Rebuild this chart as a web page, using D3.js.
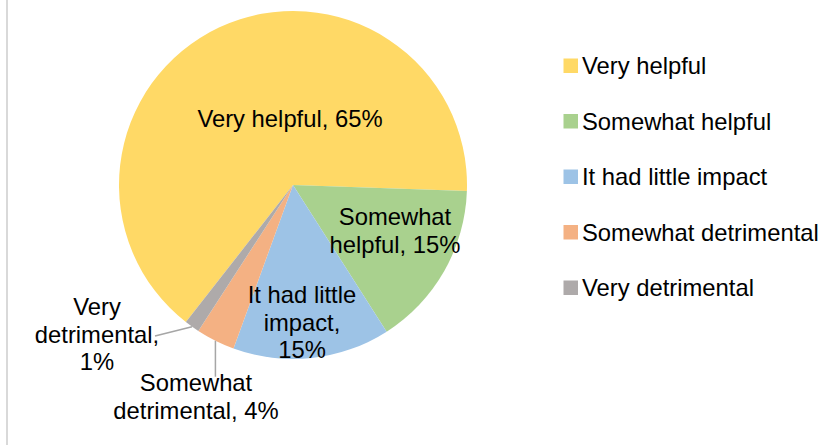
<!DOCTYPE html>
<html>
<head>
<meta charset="utf-8">
<script src="https://cdn.jsdelivr.net/npm/d3@7"></script>
<style>
  html, body { margin: 0; padding: 0; background: #fff; }
  svg { display: block; }
  text { font-family: Arial, "Liberation Sans", sans-serif; fill: #000; }
</style>
</head>
<body>
<svg id="chart" width="822" height="445"></svg>
<script>
// ---- data ----
const categories = ["Very helpful", "Somewhat helpful", "It had little impact", "Somewhat detrimental", "Very detrimental"];
const values = [65, 15.4, 14.6, 3.6, 1.4];
const percentLabels = ["65%", "15%", "15%", "4%", "1%"];
const colors = ["#FFD966", "#A9D18E", "#9DC3E6", "#F4B183", "#AEAAAA"];

// ---- layout ----
const W = 822, H = 445;
const cx = 293, cy = 185, R = 174;
const fontSize = 23.8;
const deg = Math.PI / 180;

const labelLines = [
  ["Very helpful, " + percentLabels[0]],
  ["Somewhat", "helpful, " + percentLabels[1]],
  ["It had little", "impact,", percentLabels[2]],
  ["Somewhat", "detrimental, " + percentLabels[3]],
  ["Very", "detrimental,", percentLabels[4]]
];
const labelPos = [
  {x: 290, y: 127},
  {x: 395, y: 225},
  {x: 302, y: 303},
  {x: 196, y: 391},
  {x: 97, y: 315}
];
const lineH = 27.5;

const svg = d3.select("#chart");

// left border
svg.append("line")
  .attr("x1", 7).attr("x2", 7).attr("y1", 0).attr("y2", H)
  .attr("stroke", "#d9d9d9").attr("stroke-width", 2);

const pie = d3.pie().sort(null).value(d => d)
  .startAngle(218 * deg).endAngle(218 * deg + 2 * Math.PI);
const arcs = pie(values);
const arc = d3.arc().innerRadius(0).outerRadius(R);

const g = svg.append("g").attr("transform", `translate(${cx},${cy})`);
g.selectAll("path.slice").data(arcs).enter().append("path")
  .attr("class", "slice")
  .attr("d", arc)
  .attr("fill", (d, i) => colors[i]);

function edgePoint(d) {
  const a = (d.startAngle + d.endAngle) / 2;
  return [R * Math.sin(a), -R * Math.cos(a)];
}
// Somewhat detrimental: vertical leader down to its label
{
  const p = edgePoint(arcs[3]);
  g.append("line")
    .attr("x1", p[0]).attr("y1", p[1])
    .attr("x2", p[0]).attr("y2", labelPos[3].y - fontSize * 0.6 - cy)
    .attr("stroke", "#a6a6a6").attr("stroke-width", 1.5);
}
// Very detrimental: slanted leader to label
{
  const p = edgePoint(arcs[4]);
  g.append("line")
    .attr("x1", p[0]).attr("y1", p[1])
    .attr("x2", 155 - cx).attr("y2", 336 - cy)
    .attr("stroke", "#a6a6a6").attr("stroke-width", 1.5);
}

// data labels
labelLines.forEach((lines, i) => {
  const t = svg.append("text")
    .attr("text-anchor", "middle")
    .attr("font-size", fontSize);
  lines.forEach((ln, j) => {
    t.append("tspan")
      .attr("x", labelPos[i].x)
      .attr("y", labelPos[i].y + j * lineH)
      .text(ln);
  });
});

// legend
const legY = d3.scalePoint().domain(categories).range([66, 288]);
const leg = svg.append("g");
categories.forEach((c, i) => {
  const y = legY(c);
  leg.append("rect")
    .attr("x", 563.5).attr("y", y - 7.5)
    .attr("width", 14.5).attr("height", 14.5)
    .attr("fill", colors[i]);
  leg.append("text")
    .attr("x", 582).attr("y", y + 8.4)
    .attr("font-size", fontSize)
    .text(c);
});
</script>
</body>
</html>
